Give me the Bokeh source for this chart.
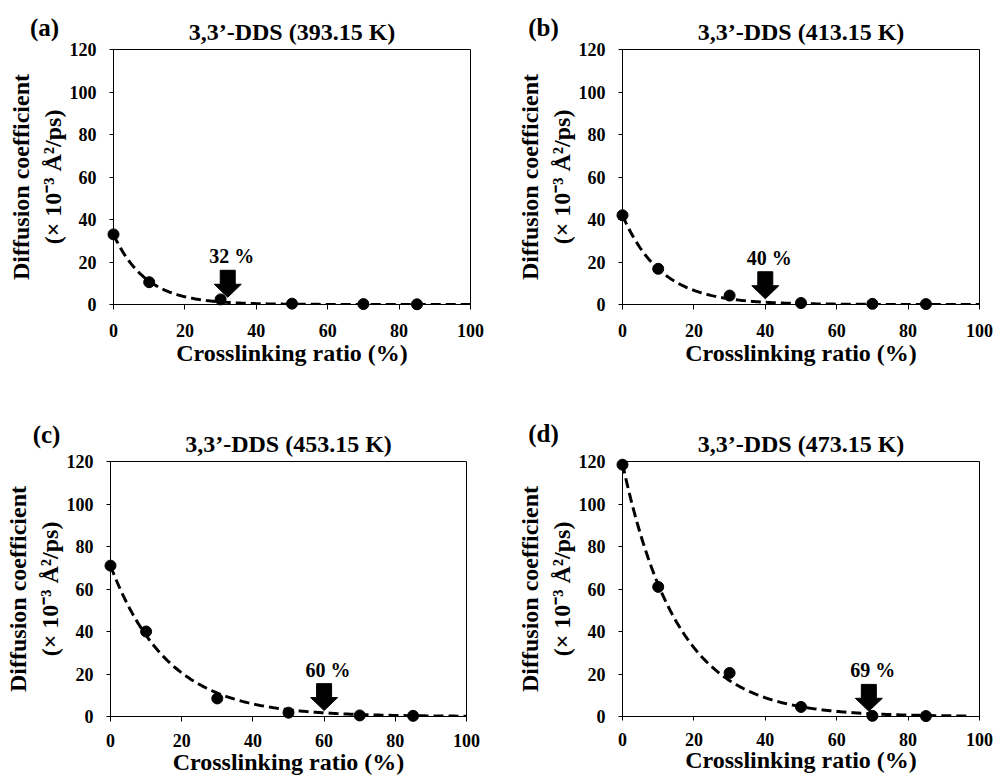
import numpy as np
from bokeh.plotting import figure
from bokeh.layouts import column, row
from bokeh.models import FixedTicker, Label, Range1d
from bokeh.core.properties import value
from bokeh.embed import file_html
from bokeh.resources import INLINE

# ---------------- data ----------------
crosslink = [0, 10, 30, 50, 70, 85]
diff_393 = [33.0, 10.5, 2.4, 0.4, 0.2, 0.1]
diff_413 = [42.0, 16.8, 4.2, 0.7, 0.3, 0.2]
diff_453 = [71.0, 40.0, 8.5, 1.8, 0.5, 0.3]
diff_473 = [118.5, 61.0, 20.5, 4.5, 0.3, 0.2]
series = [diff_393, diff_413, diff_453, diff_473]

panel_tags = ["(a)", "(b)", "(c)", "(d)"]
titles = ["3,3\u2019-DDS (393.15 K)", "3,3\u2019-DDS (413.15 K)",
          "3,3\u2019-DDS (453.15 K)", "3,3\u2019-DDS (473.15 K)"]

# exponential-decay fit curves (amplitude, rate, end of drawn curve)
fit_amp = [33.0, 42.0, 71.0, 119.0]
fit_rate = [0.11, 0.092, 0.062, 0.065]
fit_end = [100, 100, 100, 97]

# critical crosslinking ratio arrows
arrow_at = [32, 40, 60, 69]
arrow_tip = [3.4, 2.7, 2.8, 2.5]

x_ticks = [0, 20, 40, 60, 80, 100]
y_ticks = [0, 20, 40, 60, 80, 100, 120]

x_label = "Crosslinking ratio (%)"
y_label = "Diffusion coefficient\n(\u00d7 10\u207b\u00b3 \u00c5\u00b2/ps)"

FONT = "Liberation Serif"

# layout: (width, height, borders, tag offset in px from frame left / top)
layout = [
    dict(w=508, h=394, bl=113, br=38, bt=49, bb=90, tag=(-69, 22), ts=14, ls=0, to=5),
    dict(w=486, h=394, bl=114, br=15, bt=49, bb=90, tag=(-79, 22), ts=14, ls=0, to=5),
    dict(w=508, h=384, bl=110, br=42, bt=66, bb=62, tag=(-64, 27), ts=12, ls=-1, to=5),
    dict(w=486, h=384, bl=114, br=15, bt=67, bb=60, tag=(-79, 28), ts=12, ls=-2, to=4),
]


def make_panel(i):
    L = layout[i]
    fw = L["w"] - L["bl"] - L["br"]
    fh = L["h"] - L["bt"] - L["bb"]
    p = figure(width=L["w"], height=L["h"],
               x_range=Range1d(0, 100), y_range=Range1d(0, 120),
               output_backend="svg", toolbar_location=None,
               min_border_left=L["bl"], min_border_right=L["br"],
               min_border_top=L["bt"], min_border_bottom=L["bb"],
               title=titles[i])
    p.background_fill_color = "white"
    p.border_fill_color = "white"
    p.outline_line_color = "black"
    p.outline_line_width = 1
    p.grid.visible = False

    p.title.align = "center"
    p.title.text_font = FONT
    p.title.text_font_style = "bold"
    p.title.text_font_size = "24px"
    p.title.text_color = "black"
    p.title.standoff = 9

    for ax in (p.xaxis[0], p.yaxis[0]):
        ax.axis_line_color = "black"
        ax.axis_line_width = 1
        ax.major_tick_line_color = "black"
        ax.major_tick_in = 0
        ax.minor_tick_line_color = None
        ax.major_label_text_font = FONT
        ax.major_label_text_font_style = "bold"
        ax.major_label_text_font_size = "18px"
        ax.major_label_text_color = "black"
        ax.axis_label_text_font = FONT
        ax.axis_label_text_font_style = "bold"
        ax.axis_label_text_font_size = "24px"
        ax.axis_label_text_color = "black"

    p.xaxis.ticker = FixedTicker(ticks=x_ticks)
    p.yaxis.ticker = FixedTicker(ticks=y_ticks)
    p.xaxis.major_tick_out = L["to"]
    p.yaxis.major_tick_out = 4
    p.xaxis.major_label_standoff = L["ts"]
    p.yaxis.major_label_standoff = 13
    p.xaxis.axis_label = x_label
    p.yaxis.axis_label = y_label
    p.xaxis.axis_label_standoff = L["ls"]
    p.yaxis.axis_label_standoff = 1

    # fitted dashed curve
    xf = np.linspace(0, fit_end[i], 300)
    yf = fit_amp[i] * np.exp(-fit_rate[i] * xf)
    p.line(xf, yf, line_color="black", line_width=3, line_dash="10 5")

    # data points
    p.scatter(crosslink, series[i], size=11, fill_color="black",
              line_color="black", level="overlay")

    # arrow (tip on the curve), size given in pixels
    sx = fw / 100.0
    sy = fh / 120.0
    shaft_hw, head_hw, head_h, total_h = 7.5, 13.5, 13.0, 27.0
    ax_ = arrow_at[i]
    ty = arrow_tip[i]
    px = [0, -head_hw, -shaft_hw, -shaft_hw, shaft_hw, shaft_hw, head_hw]
    py = [0, head_h, head_h, total_h, total_h, head_h, head_h]
    p.patch([ax_ + v / sx for v in px], [ty + v / sy for v in py],
            fill_color="black", line_color="black", line_width=1)

    p.add_layout(Label(x=ax_ + 4 / sx, y=ty + (total_h + 3) / sy,
                       text=f"{arrow_at[i]} %", text_align="center",
                       text_baseline="bottom", text_font=FONT,
                       text_font_style="bold", text_font_size="20px",
                       text_color="black"))

    # panel tag (outside the frame; overlay-level glyph so it is not clipped)
    tx, tyy = L["tag"]
    p.text(x=[tx / sx], y=[120 + tyy / sy], text=[panel_tags[i]],
           text_align="center", text_baseline="middle",
           text_font=value(FONT), text_font_style="bold",
           text_font_size="25px", text_color="black", level="overlay")
    return p


panels = [make_panel(i) for i in range(4)]
page = column(row(panels[0], panels[1]), row(panels[2], panels[3]))

open("out.html", "w").write(file_html(page, INLINE))
